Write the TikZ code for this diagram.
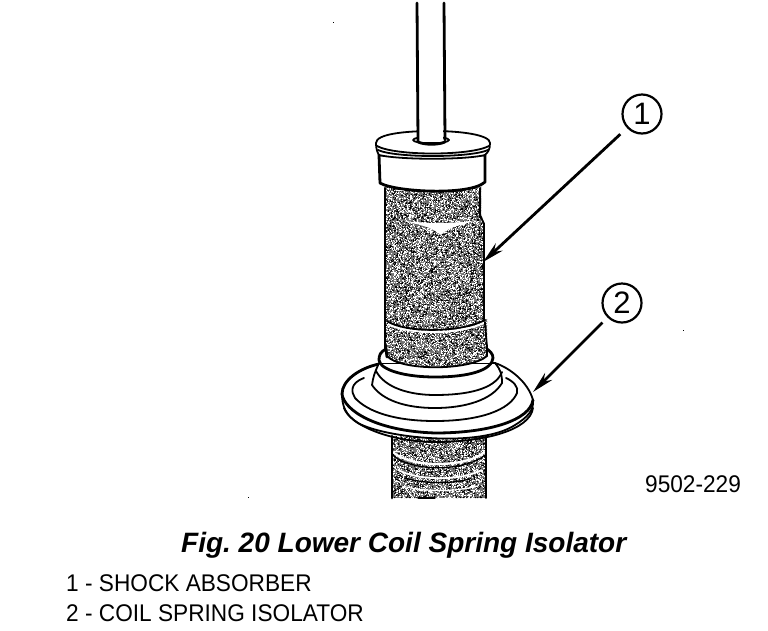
\documentclass[tikz,border=0pt]{standalone}
\usepackage{fontspec}
\setmainfont{Liberation Sans}
\newfontfamily\tallfont[FakeStretch=0.94]{Liberation Sans}
\usetikzlibrary{arrows.meta}
% scattered one-pixel specks over a rectangle: left, top, width, height, count
\newcommand\speckle[5]{%
  \foreach \col in {black,white}{%
    \pgfsetfillcolor{\col}%
    \foreach \i in {1,...,#5}{%
      \pgfmathtruncatemacro{\u}{#1+random(0,#3)}%
      \pgfmathtruncatemacro{\v}{#2+random(0,#4)}%
      \pgfpathrectangle{\pgfqpoint{\u pt}{-\v pt}}{\pgfqpoint{1pt}{1pt}}}%
    \pgfusepath{fill}}}
\tikzset{
  x=1pt,y=-1pt,
  ink/.style={draw=black,line width=1.8pt,line cap=round,line join=round},
  thin ink/.style={draw=black,line width=1.3pt,line cap=round},
  thick ink/.style={draw=black,line width=2.8pt,line cap=round,line join=round},
  spotbase/.style={fill=black!55},
  bubble/.style={circle,draw=black,line width=2.2pt,minimum size=39pt,inner sep=0pt,font=\fontsize{31}{31}\selectfont},
  leader/.style={draw=black,line width=2.8pt,-{Stealth[length=22pt,width=10pt]}},
  cap text/.style={anchor=base west,inner sep=0pt,font=\tallfont\fontsize{24.1}{26}\selectfont},
}
\begin{document}
\begin{tikzpicture}
\frenchspacing
\pgfmathsetseed{4127}
\useasboundingbox[fill=white] (0,0) rectangle (768,630);
% lower body
\begin{scope}
\clip (392,436) -- (392,498) -- (486,498) -- (486,436) -- cycle;
\fill[spotbase] (392,436) rectangle (486,498);
\speckle{392}{436}{94}{62}{1900}
\end{scope}
\draw[white,line width=2.2pt] (393,452) .. controls (410,468) and (465,468) .. (485,452);
\draw[white,line width=1.8pt] (398,470) .. controls (420,481) and (460,481) .. (482,470);
\draw[white,line width=1.2pt] (402,486) .. controls (425,492) and (455,492) .. (478,486);
\draw[thick ink] (392,436) -- (392,498);
\draw[ink] (486,436) -- (486,498);
\draw[thin ink] (393,455) .. controls (410,472) and (465,472) .. (485,455);
\draw[thin ink] (405,478) .. controls (425,484) and (450,484) .. (470,479);
\draw[thin ink] (418,498) -- (435,498);
% upper body
\begin{scope}
\clip (386,185) -- (386,320) -- (487,320) -- (484,320) -- (484,222) -- (481,215) -- (481,185) -- cycle;
\fill[spotbase] (386,185) rectangle (487,320);
\speckle{386}{185}{100}{135}{4300}
\end{scope}
\begin{scope}
\clip (386,318) -- (386,355) -- (388,368) .. controls (410,376) and (465,376) .. (487,368) -- (487,318) -- cycle;
\fill[spotbase] (386,318) rectangle (487,375);
\speckle{386}{318}{101}{57}{1800}
\end{scope}
\draw[white,line width=2pt] (388,324) .. controls (410,335) and (460,335) .. (486,322);
\fill[white] (399,220) .. controls (420,225) and (430,226) .. (441,235) .. controls (448,227) and (462,225) .. (476,220) .. controls (455,224) and (425,224) .. (399,220) -- cycle;
\draw[thick ink] (385,188) -- (385,350);
\draw[thick ink] (484,224) -- (484,320);
\draw[ink] (480,188) -- (480,215) -- (484,224);
\draw[ink] (485,322) -- (487,348);
\draw[ink] (387,321) .. controls (405,333) and (460,333) .. (485,320);
% flange
\path[fill=white,ink] (379,364) .. controls (360,368) and (342,380) .. (342,394)
  .. controls (342,405) and (345,415) .. (358,423)
  .. controls (385,438) and (480,448) .. (515,425)
  .. controls (528,417) and (534,410) .. (533,400)
  .. controls (528,382) and (510,368) .. (495,363) -- cycle;
\draw[thick ink] (379,364) .. controls (360,368) and (342,380) .. (342,394);
\draw[thick ink] (342,394) .. controls (344,410) and (375,431) .. (435,433)
  .. controls (490,433) and (530,420) .. (533,400);
\draw[ink] (344,408) .. controls (350,425) and (390,442) .. (435,442)
  .. controls (485,442) and (530,430) .. (533,408);
\draw[ink] (364,378) .. controls (350,383) and (351,392) .. (355,398)
  .. controls (368,412) and (395,421) .. (435,421)
  .. controls (480,421) and (510,410) .. (517,393) .. controls (519,387) and (513,381) .. (506,378);
% stepped rings
\path[fill=white,ink] (372,385) .. controls (373,378) and (374,374) .. (379,363)
  -- (495,363) .. controls (501,370) and (502,375) .. (502,383)
  .. controls (492,400) and (465,408) .. (435,408) .. controls (405,408) and (382,400) .. (372,385) -- cycle;
\draw[ink] (376,371) .. controls (385,388) and (410,395) .. (435,395)
  .. controls (465,395) and (495,390) .. (502,372);
\path[fill=white,draw=none] (379,350) rectangle (493,363);
\draw[thick ink] (387,349) .. controls (380,351) and (379,356) .. (379,360)
  .. controls (380,370) and (405,377) .. (435,377) .. controls (470,377) and (492,370) .. (493,358)
  .. controls (493,354) and (490,351) .. (487,349);
\begin{scope}
\clip (387,345) -- (387,356) .. controls (400,370) and (470,370) .. (487,356) -- (487,345) -- cycle;
\fill[spotbase] (387,345) rectangle (487,370);
\speckle{387}{345}{100}{25}{800}
\end{scope}
\draw[ink] (387,356) .. controls (400,371) and (470,371) .. (487,356);
\draw[thick ink] (385.5,345) -- (387,357);
\draw[ink] (487,345) -- (487,356);
% rod, cap
\path[fill=white,thick ink] (379,155) -- (380,183) .. controls (395,192) and (470,196) .. (485,182) -- (485,155) -- cycle;
\path[fill=white,ink] (376,143) .. controls (376,134) and (405,131) .. (433,131)
  .. controls (462,131) and (490,135) .. (490,143) .. controls (490,150) and (488,152) .. (485,155)
  .. controls (465,160) and (400,160) .. (379,155) .. controls (377,152) and (376,148) .. (376,143) -- cycle;
\draw[ink] (377,146) .. controls (395,156) and (470,156) .. (489,146);
\draw[ink] (378,150) .. controls (395,158) and (470,158) .. (488,150);
\draw[ink] (413,140) .. controls (413,144) and (449,144) .. (449,140) .. controls (449,136) and (413,136) .. (413,140);
\fill[white] (418,3) rectangle (443,142);
\draw[thick ink] (417,3) -- (418,141);
\draw[thick ink] (444,3) -- (445,140);
\draw[thick ink] (418,142) .. controls (425,145) and (438,145) .. (445,142);
% specks
\fill (333,22) rectangle (334,23);
\fill (248,497) rectangle (249,498);
\fill (683,330) rectangle (684,331);
% callouts
\node[bubble] (one) at (642,114) {1};
\node[bubble] (two) at (622,303) {2};
\coordinate (tipone) at (483,262);
\coordinate (tiptwo) at (533,392);
\draw[leader,shorten <=9pt] (one) -- (tipone);
\draw[leader,shorten <=7pt] (two) -- (tiptwo);
% text
\node[cap text] (code) at (645,492) {9502-229};
\node[anchor=base west,inner sep=0pt,font=\fontsize{28}{30}\selectfont\bfseries\itshape] (title) at (181,552) {Fig. 20 Lower Coil Spring Isolator};
\node[cap text] (itemone) at (66,591) {1 - SHOCK ABSORBER};
\node[cap text] (itemtwo) at (66,621) {2 - COIL SPRING ISOLATOR};
\end{tikzpicture}
\end{document}
